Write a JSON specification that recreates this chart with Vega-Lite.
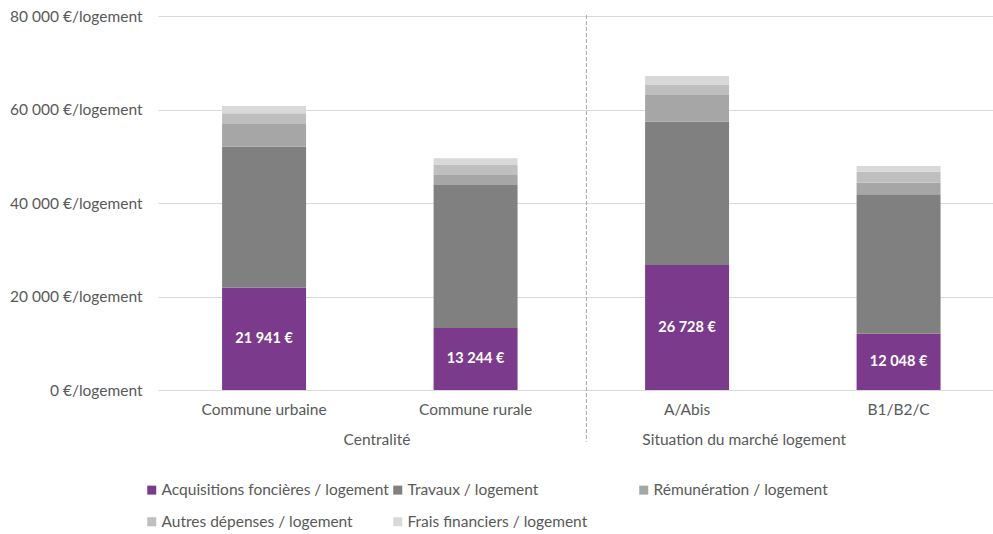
{
  "$schema": "https://vega.github.io/schema/vega-lite/v6.json",
  "width": 835,
  "height": 374,
  "autosize": "none",
  "padding": {"left": 158, "top": 16, "right": 0, "bottom": 144},
  "background": "white",
  "config": {
    "font": "Lato",
    "view": {"stroke": null},
    "locale": {
      "number": {"decimal": ",", "thousands": "\u00a0", "grouping": [3], "currency": ["", "\u00a0€"]}
    },
    "axis": {"labelColor": "#595959", "labelFontSize": 15.5, "labelFont": "Lato"}
  },
  "data": {
    "values": [
      {"categorie": "Commune urbaine", "poste": "Acquisitions foncières / logement", "valeur": 21941},
      {"categorie": "Commune urbaine", "poste": "Travaux / logement", "valeur": 30100},
      {"categorie": "Commune urbaine", "poste": "Rémunération / logement", "valeur": 5000},
      {"categorie": "Commune urbaine", "poste": "Autres dépenses / logement", "valeur": 2140},
      {"categorie": "Commune urbaine", "poste": "Frais financiers / logement", "valeur": 1560},
      {"categorie": "Commune rurale", "poste": "Acquisitions foncières / logement", "valeur": 13244},
      {"categorie": "Commune rurale", "poste": "Travaux / logement", "valeur": 30610},
      {"categorie": "Commune rurale", "poste": "Rémunération / logement", "valeur": 2140},
      {"categorie": "Commune rurale", "poste": "Autres dépenses / logement", "valeur": 2140},
      {"categorie": "Commune rurale", "poste": "Frais financiers / logement", "valeur": 1430},
      {"categorie": "A/Abis", "poste": "Acquisitions foncières / logement", "valeur": 26728},
      {"categorie": "A/Abis", "poste": "Travaux / logement", "valeur": 30650},
      {"categorie": "A/Abis", "poste": "Rémunération / logement", "valeur": 5710},
      {"categorie": "A/Abis", "poste": "Autres dépenses / logement", "valeur": 2140},
      {"categorie": "A/Abis", "poste": "Frais financiers / logement", "valeur": 1925},
      {"categorie": "B1/B2/C", "poste": "Acquisitions foncières / logement", "valeur": 12048},
      {"categorie": "B1/B2/C", "poste": "Travaux / logement", "valeur": 29820},
      {"categorie": "B1/B2/C", "poste": "Rémunération / logement", "valeur": 2480},
      {"categorie": "B1/B2/C", "poste": "Autres dépenses / logement", "valeur": 2350},
      {"categorie": "B1/B2/C", "poste": "Frais financiers / logement", "valeur": 1220}
    ]
  },
  "layer": [
    {
      "transform": [
        {"calculate": "indexof(['Acquisitions foncières / logement', 'Travaux / logement', 'Rémunération / logement', 'Autres dépenses / logement', 'Frais financiers / logement'], datum.poste)", "as": "rang"}
      ],
      "mark": {"type": "bar"},
      "encoding": {
        "x": {
          "field": "categorie",
          "type": "nominal",
          "sort": ["Commune urbaine", "Commune rurale", "A/Abis", "B1/B2/C"],
          "scale": {"domain": ["Commune urbaine", "Commune rurale", "A/Abis", "B1/B2/C"], "paddingInner": 0.603, "paddingOuter": 0.2755, "align": 0.55},
          "axis": {"title": null, "domain": false, "ticks": false, "labelAngle": 0, "labelPadding": 12, "grid": false}
        },
        "y": {
          "field": "valeur",
          "type": "quantitative",
          "stack": "zero",
          "scale": {"domain": [0, 80000], "nice": false},
          "axis": {
            "title": null, "domain": false, "ticks": false,
            "values": [0, 20000, 40000, 60000, 80000],
            "format": ",.0f",
            "labelExpr": "datum.label + '\u00a0€/logement'",
            "labelPadding": 16,
            "gridColor": "#d9d9d9", "gridWidth": 1.2
          }
        },
        "color": {
          "field": "poste",
          "type": "nominal",
          "scale": {
            "domain": ["Acquisitions foncières / logement", "Travaux / logement", "Rémunération / logement", "Autres dépenses / logement", "Frais financiers / logement"],
            "range": ["#7b3a8c", "#808080", "#a6a6a6", "#bfbfbf", "#d9d9d9"]
          },
          "legend": {
            "title": null,
            "orient": "none",
            "legendX": -14,
            "legendY": 466,
            "direction": "horizontal",
            "columns": 3,
            "gridAlign": "all",
            "columnPadding": 1,
            "rowPadding": 15,
            "symbolType": "square",
            "symbolSize": 81,
            "symbolStrokeWidth": 0,
            "labelFontSize": 15.5,
            "labelColor": "#595959",
            "labelOffset": 2,
            "labelLimit": 400
          }
        },
        "order": {"field": "rang", "type": "quantitative", "sort": "ascending"}
      }
    },
    {
      "transform": [
        {"filter": "datum.poste === 'Acquisitions foncières / logement'"},
        {"calculate": "datum.valeur / 2", "as": "milieu"}
      ],
      "mark": {"type": "text", "color": "white", "fontWeight": "bold", "fontSize": 14.5, "baseline": "middle"},
      "encoding": {
        "x": {"field": "categorie", "type": "nominal"},
        "y": {"field": "milieu", "type": "quantitative"},
        "text": {"field": "valeur", "type": "quantitative", "format": "$,.0f"}
      }
    },
    {
      "data": {"values": [{"separation": "Centralité | Situation du marché logement"}]},
      "mark": {"type": "rule", "color": "#a6a6a6", "strokeDash": [4, 2], "strokeWidth": 1},
      "encoding": {
        "x": {"datum": "Commune rurale", "bandPosition": 1.82},
        "y": {"datum": 80200, "type": "quantitative"},
        "y2": {"datum": -11100}
      }
    },
    {
      "data": {"values": [{"groupe": "Centralité"}]},
      "mark": {"type": "text", "fontSize": 15.5, "color": "#595959", "baseline": "middle"},
      "encoding": {
        "x": {"datum": "Commune urbaine", "bandPosition": 1.845},
        "y": {"datum": -10600, "type": "quantitative"},
        "text": {"field": "groupe"}
      }
    },
    {
      "data": {"values": [{"groupe": "Situation du marché logement"}]},
      "mark": {"type": "text", "fontSize": 15.5, "color": "#595959", "baseline": "middle"},
      "encoding": {
        "x": {"datum": "A/Abis", "bandPosition": 1.18},
        "y": {"datum": -10600, "type": "quantitative"},
        "text": {"field": "groupe"}
      }
    }
  ]
}
